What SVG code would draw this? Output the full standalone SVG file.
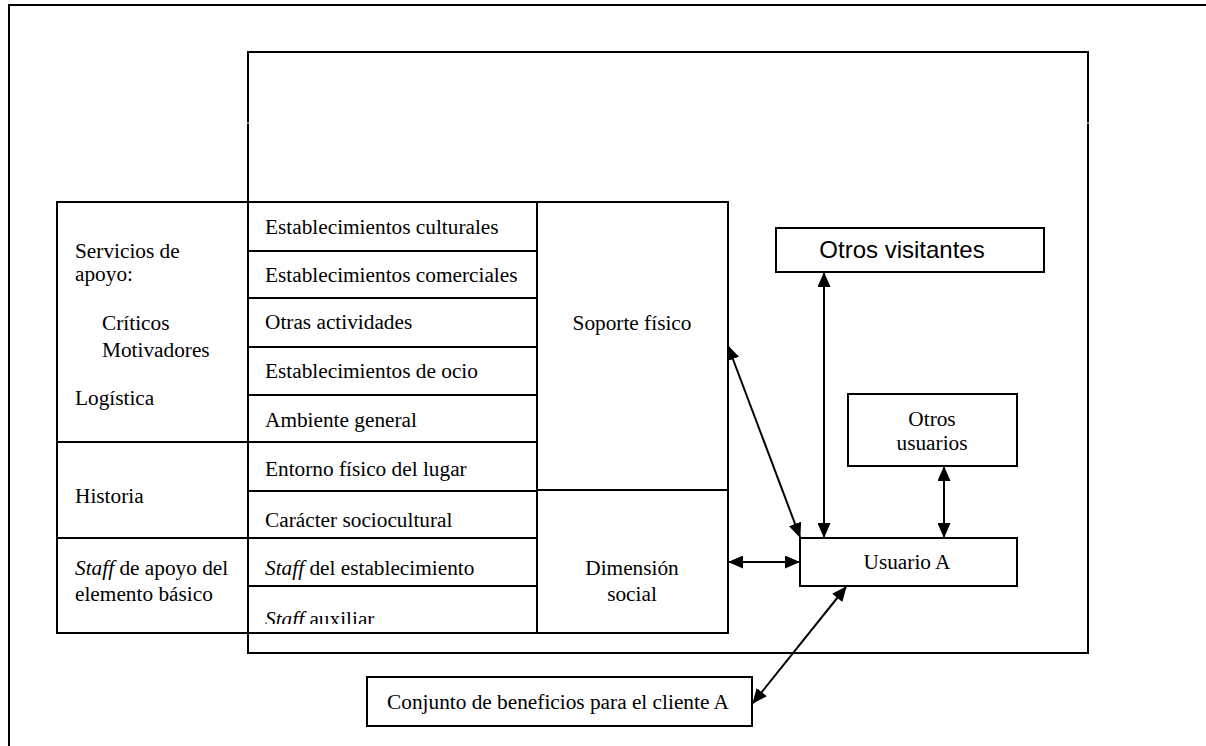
<svg xmlns="http://www.w3.org/2000/svg" width="1206" height="746" viewBox="0 0 1206 746">
  <style>
    .rule { stroke: #000; stroke-width: 2; }
    .box { fill: #fff; stroke: #000; stroke-width: 2; }
    .t { font-family: "Liberation Serif", "Times New Roman", serif; font-size: 21.3px; fill: #000; }
    .mid { text-anchor: middle; }
    .sans { font-family: "Liberation Sans", Arial, sans-serif; font-size: 24px; fill: #000; }
    .link { stroke: #000; stroke-width: 2; fill: none; marker-start: url(#head); marker-end: url(#head); }
  </style>
  <defs>
    <marker id="head" viewBox="0 0 15 13" refX="14" refY="6.5" markerWidth="15" markerHeight="13" markerUnits="userSpaceOnUse" orient="auto-start-reverse">
      <path d="M0,0 L15,6.5 L0,13 Z" fill="#000"/>
    </marker>
    <clipPath id="cell-clip">
      <rect x="248" y="587" width="289" height="37"/>
    </clipPath>
  </defs>

  <!-- page frame -->
  <g id="page-frame">
    <line class="rule" x1="8" y1="5" x2="1206" y2="5"/>
    <line class="rule" x1="9" y1="4" x2="9" y2="746"/>
  </g>

  <!-- surrounding environment frame -->
  <g id="environment">
    <line class="rule" x1="248" y1="52" x2="1088" y2="52"/>
    <line class="rule" x1="248" y1="51" x2="248" y2="122.5"/>
    <line class="rule" x1="248" y1="123.5" x2="248" y2="654"/>
    <line class="rule" x1="1088" y1="51" x2="1088" y2="122.5"/>
    <line class="rule" x1="1088" y1="123.5" x2="1088" y2="654"/>
    <line class="rule" x1="247" y1="653" x2="1089" y2="653"/>
  </g>

  <!-- service elements table -->
  <g id="services-table">
    <rect class="box" x="57" y="202" width="671" height="431"/>
    <line class="rule" x1="248" y1="202" x2="248" y2="633"/>
    <line class="rule" x1="537" y1="202" x2="537" y2="633"/>
    <!-- left column dividers -->
    <line class="rule" x1="57" y1="442" x2="248" y2="442"/>
    <line class="rule" x1="57" y1="538" x2="248" y2="538"/>
    <!-- middle column dividers -->
    <line class="rule" x1="248" y1="251" x2="537" y2="251"/>
    <line class="rule" x1="248" y1="298" x2="537" y2="298"/>
    <line class="rule" x1="248" y1="347" x2="537" y2="347"/>
    <line class="rule" x1="248" y1="395" x2="537" y2="395"/>
    <line class="rule" x1="248" y1="442" x2="537" y2="442"/>
    <line class="rule" x1="248" y1="491" x2="537" y2="491"/>
    <line class="rule" x1="248" y1="538" x2="537" y2="538"/>
    <line class="rule" x1="248" y1="586" x2="537" y2="586"/>
    <!-- right column divider -->
    <line class="rule" x1="537" y1="490" x2="728" y2="490"/>

    <g id="support-services">
      <text class="t" x="75" y="258">Servicios de</text>
      <text class="t" x="75" y="281">apoyo:</text>
      <text class="t" x="102" y="330">Críticos</text>
      <text class="t" x="102" y="357">Motivadores</text>
      <text class="t" x="75" y="405">Logística</text>
    </g>
    <g id="history">
      <text class="t" x="75" y="503">Historia</text>
    </g>
    <g id="support-staff">
      <text class="t" x="75" y="575"><tspan font-style="italic">Staff</tspan> de apoyo del</text>
      <text class="t" x="75" y="601">elemento básico</text>
    </g>

    <g id="elements">
      <text class="t" x="265" y="234">Establecimientos culturales</text>
      <text class="t" x="265" y="282">Establecimientos comerciales</text>
      <text class="t" x="265" y="329">Otras actividades</text>
      <text class="t" x="265" y="378">Establecimientos de ocio</text>
      <text class="t" x="265" y="427">Ambiente general</text>
      <text class="t" x="265" y="476">Entorno físico del lugar</text>
      <text class="t" x="265" y="527">Carácter sociocultural</text>
      <text class="t" x="265" y="575"><tspan font-style="italic">Staff</tspan> del establecimiento</text>
      <text class="t" x="265" y="626" clip-path="url(#cell-clip)"><tspan font-style="italic">Staff</tspan> auxiliar</text>
    </g>

    <g id="physical-support">
      <text class="t mid" x="632" y="330">Soporte físico</text>
    </g>
    <g id="social-dimension">
      <text class="t mid" x="632" y="575">Dimensión</text>
      <text class="t mid" x="632" y="601">social</text>
    </g>
  </g>

  <g id="other-visitors">
    <rect class="box" x="776" y="228" width="268" height="44"/>
    <text class="sans mid" x="902" y="258">Otros visitantes</text>
  </g>

  <g id="other-users">
    <rect class="box" x="848" y="394" width="169" height="72"/>
    <text class="t mid" x="932" y="426">Otros</text>
    <text class="t mid" x="932" y="450">usuarios</text>
  </g>

  <g id="user-a">
    <rect class="box" x="800" y="538" width="217" height="48"/>
    <text class="t mid" x="907" y="569">Usuario A</text>
  </g>

  <g id="benefits">
    <rect class="box" x="367" y="677" width="385" height="49"/>
    <text class="t mid" x="558" y="709">Conjunto de beneficios para el cliente A</text>
  </g>

  <!-- connectors -->
  <g id="connectors">
    <line class="link" x1="824" y1="273" x2="824" y2="537"/>
    <line class="link" x1="944" y1="467" x2="944" y2="537"/>
    <line class="link" x1="728" y1="346" x2="800" y2="537"/>
    <line class="link" x1="729" y1="562" x2="799" y2="562"/>
    <line class="link" x1="846" y1="587" x2="753" y2="703"/>
  </g>
</svg>
